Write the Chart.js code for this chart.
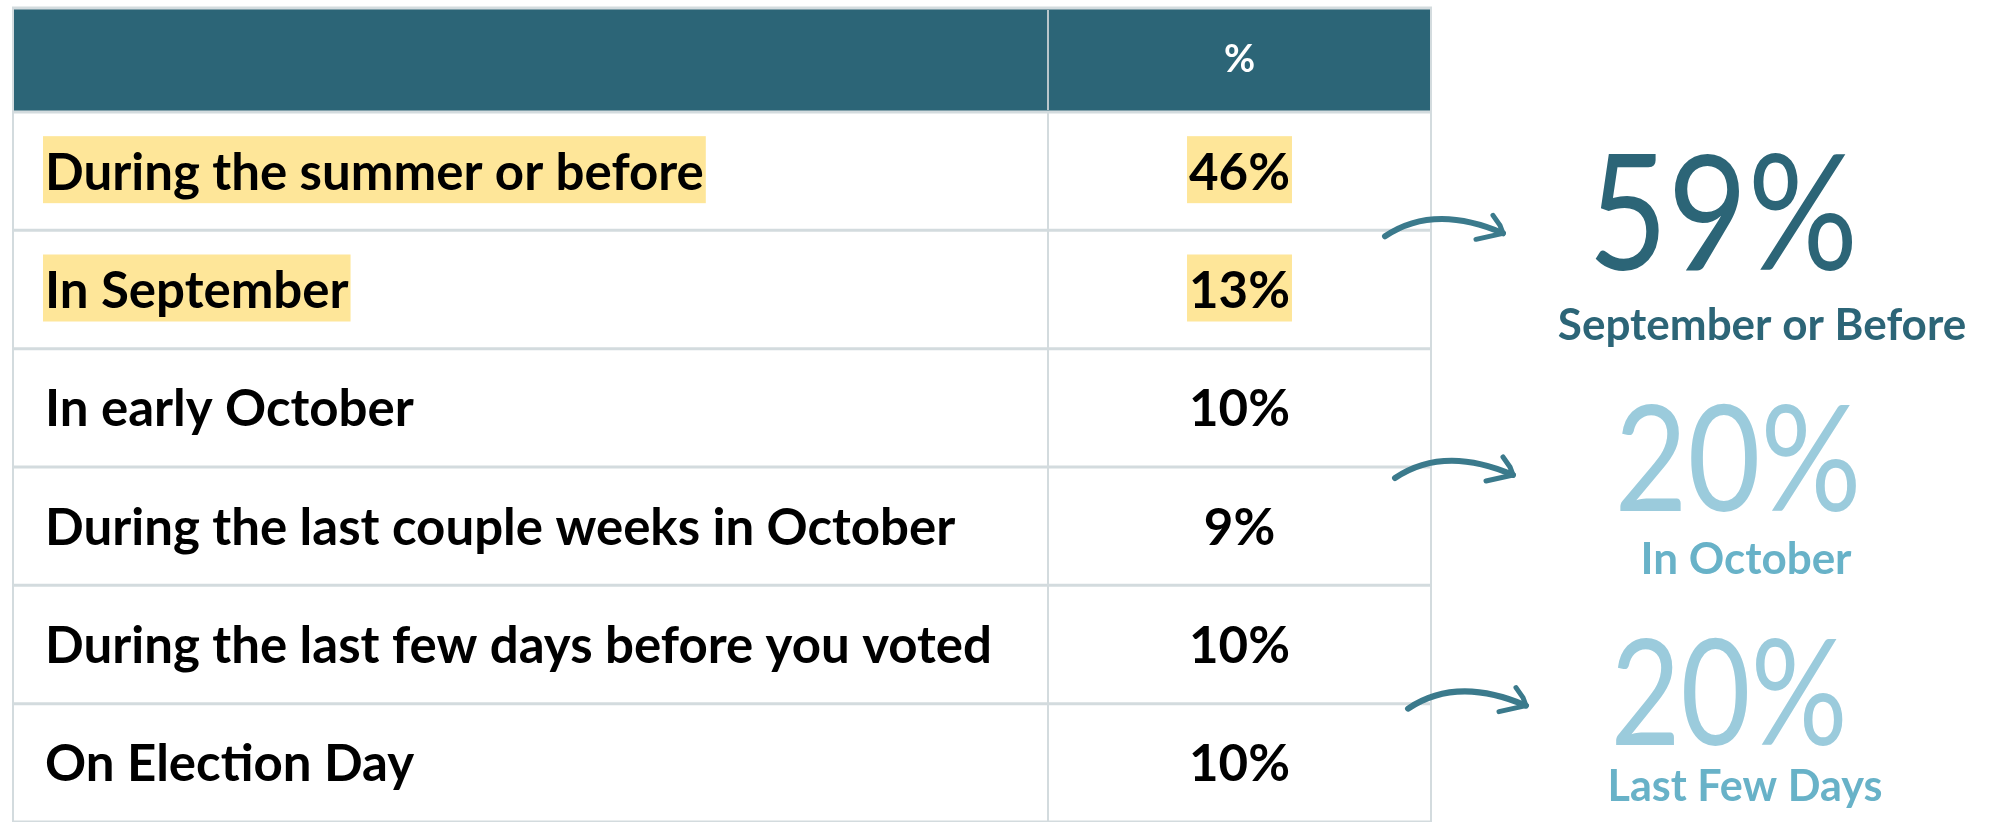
<!DOCTYPE html>
<html>
<head>
<meta charset="utf-8">
<script src="https://cdn.jsdelivr.net/npm/chart.js@4.4.1/dist/chart.umd.min.js"></script>
<style>
  html, body { margin: 0; padding: 0; background: #ffffff; }
  #wrap { width: 1995px; height: 822px; position: relative; }
</style>
</head>
<body>
<div id="wrap"><canvas id="myChart"></canvas></div>
<script>
// rows of the table
const rowLabels = [
  "During the summer or before",
  "In September",
  "In early October",
  "During the last couple weeks in October",
  "During the last few days before you voted",
  "On Election Day"
];
const shareValues = [46, 13, 10, 9, 10, 10];
const highlightRows = [true, true, false, false, false, false];
const headerLabels = ["", "%"];

// summary callouts on the right
const calloutValues = [59, 20, 20];
const calloutLabels = ["September or Before", "In October", "Last Few Days"];
const calloutRows = [[0, 1], [2, 3], [4, 5]];

const FONT = "Lato, 'Open Sans', sans-serif";
const cellFont = "bold 51px " + FONT;

//draws header, highlights, cell lines, values and the callouts
const tablePlugin = {
  id: "tableCells",
  beforeDraw(chart, args, opts) {
    const { ctx, chartArea: ca, scales: { y } } = chart;
    const left = y.left - opts.cellPad;
    ctx.save();
    ctx.fillStyle = opts.headerColor;
    ctx.fillRect(left, opts.top, ca.right - left, y.top - opts.top);

    ctx.font = cellFont;
    ctx.fillStyle = opts.highlight;
    const cx = (ca.left + ca.right) / 2;
    rowLabels.forEach((lab, i) => {
      if (!highlightRows[i]) return;
      const cy = y.getPixelForValue(i);
      const w = ctx.measureText(lab).width;
      ctx.fillRect(y.left - 2, cy - 35, w + 4, 67);
      const vw = ctx.measureText(shareValues[i] + "%").width;
      ctx.fillRect(cx - vw / 2 - 2, cy - 35, vw + 4, 67);
    });
    ctx.restore();
  },
  afterDatasetsDraw(chart, args, opts) {
    const { ctx, chartArea: ca, scales: { y } } = chart;
    const left = y.left - opts.cellPad;
    const n = rowLabels.length;
    const rowH = (y.bottom - y.top) / n;
    ctx.save();
    // row lines
    ctx.strokeStyle = opts.lineColor;
    ctx.lineWidth = 3;
    for (let i = 0; i < n; i++) {
      const yy = y.getPixelForValue(i) + rowH / 2;
      ctx.beginPath(); ctx.moveTo(left, yy); ctx.lineTo(ca.right, yy); ctx.stroke();
    }
    ctx.beginPath(); ctx.moveTo(left, y.top); ctx.lineTo(ca.right, y.top); ctx.stroke();
    ctx.beginPath(); ctx.moveTo(left - 1, opts.top); ctx.lineTo(ca.right + 1, opts.top); ctx.stroke();
    // column lines
    ctx.lineWidth = 2;
    [left, ca.right].forEach(x => {
      ctx.beginPath(); ctx.moveTo(x, opts.top); ctx.lineTo(x, chart.height); ctx.stroke();
    });
    ctx.beginPath(); ctx.moveTo(ca.left, y.top); ctx.lineTo(ca.left, chart.height); ctx.stroke();
    ctx.strokeStyle = opts.headerLine;
    ctx.beginPath(); ctx.moveTo(ca.left, opts.top + 2); ctx.lineTo(ca.left, y.top - 2); ctx.stroke();

    // header text
    const cx = (ca.left + ca.right) / 2;
    ctx.fillStyle = "#ffffff";
    ctx.font = "bold 38px " + FONT;
    ctx.textAlign = "center";
    ctx.textBaseline = "middle";
    ctx.fillText(headerLabels[1], cx, (opts.top + y.top) / 2);

    // values
    ctx.fillStyle = "#000000";
    ctx.font = cellFont;
    const meta = chart.getDatasetMeta(0);
    meta.data.forEach((bar, i) => {
      ctx.fillText(shareValues[i] + "%", cx, bar.y + opts.textShift);
    });
    ctx.restore();
  },
  afterDraw(chart, args, opts) {
    const { ctx, chartArea: ca, scales: { y } } = chart;
    const c = opts.callout;
    ctx.save();
    calloutRows.forEach((rows, k) => {
      const b = (y.getPixelForValue(rows[0]) + y.getPixelForValue(rows[1])) / 2;
      // arrow
      const x0 = ca.right + c.arrowStart[k], x1 = x0 + c.arrowLen;
      const y0 = b + c.arrowDy[k] + 3, y1 = b + c.arrowDy[k];
      ctx.strokeStyle = c.arrowColor;
      ctx.lineCap = "round";
      ctx.lineJoin = "round";
      ctx.lineWidth = 6;
      ctx.beginPath();
      ctx.moveTo(x0, y0);
      ctx.quadraticCurveTo((x0 + x1) / 2 - 10, b + c.arrowDy[k] - 30, x1, y1);
      ctx.stroke();
      ctx.lineWidth = 5;
      ctx.beginPath();
      ctx.moveTo(x1 - 10, y1 - 18);
      ctx.lineTo(x1 - 3, y1 - 8);
      ctx.lineTo(x1, y1);
      ctx.lineTo(x1 - 27, y1 + 6);
      ctx.stroke();

      // big number
      ctx.textAlign = "center";
      ctx.textBaseline = "alphabetic";
      ctx.fillStyle = c.numColors[k];
      ctx.font = c.numSize[k] + "px " + FONT;
      ctx.fillText(calloutValues[k] + "%", c.numX[k], b + c.numDy[k], c.numW[k]);
      // caption
      ctx.fillStyle = c.labColors[k];
      ctx.font = "bold 44px " + FONT;
      ctx.fillText(calloutLabels[k], c.labX[k], b + c.labDy[k], c.labW[k]);
    });
    ctx.restore();
  }
};

const myChart = new Chart("myChart", {
  type: "bar",
  data: {
    labels: rowLabels,
    datasets: [{
      data: shareValues,
      backgroundColor: "rgba(0,0,0,0)",
      borderWidth: 0
    }]
  },
  plugins: [tablePlugin],
  options: {
    indexAxis: "y",
    responsive: true,
    maintainAspectRatio: false,
    animation: false,
    layout: { padding: { left: 45, right: 564, top: 112, bottom: -5 } },
    scales: {
      x: { display: false, min: 0, max: 100 },
      y: {
        type: "category",
        offset: true,
        grid: { display: false },
        border: { display: false },
        afterFit: (scale) => {
          scale.width = 1003;
          scale.paddingTop = 0;
          scale.paddingBottom = 0;
        },
        ticks: {
          crossAlign: "far",
          color: "#000000",
          labelOffset: 2,
          font: { family: FONT, size: 51, weight: "bold" }
        }
      }
    },
    plugins: {
      legend: { display: false },
      tooltip: { enabled: false },
      tableCells: {
        cellPad: 32,
        top: 8,
        textShift: 2,
        headerColor: "#2c6577",
        headerLine: "#b9c6cb",
        lineColor: "#d3dbde",
        highlight: "#fee699",
        callout: {
          arrowColor: "#3b7a8c",
          arrowStart: [-46, -36, -23],
          arrowDy: [3, 8, 2],
          arrowLen: 118,
          numColors: ["#2c6577", "#9bcbdc", "#9bcbdc"],
          labColors: ["#2c6577", "#68b2c8", "#68b2c8"],
          numSize: [162, 148, 148],
          numX: [1723, 1738, 1729],
          numW: [270, 247, 237],
          numDy: [40, 44, 41],
          labX: [1762, 1746, 1745],
          labW: [425, 213, 275],
          labDy: [110, 107, 97]
        }
      }
    }
  }
});
</script>
</body>
</html>
